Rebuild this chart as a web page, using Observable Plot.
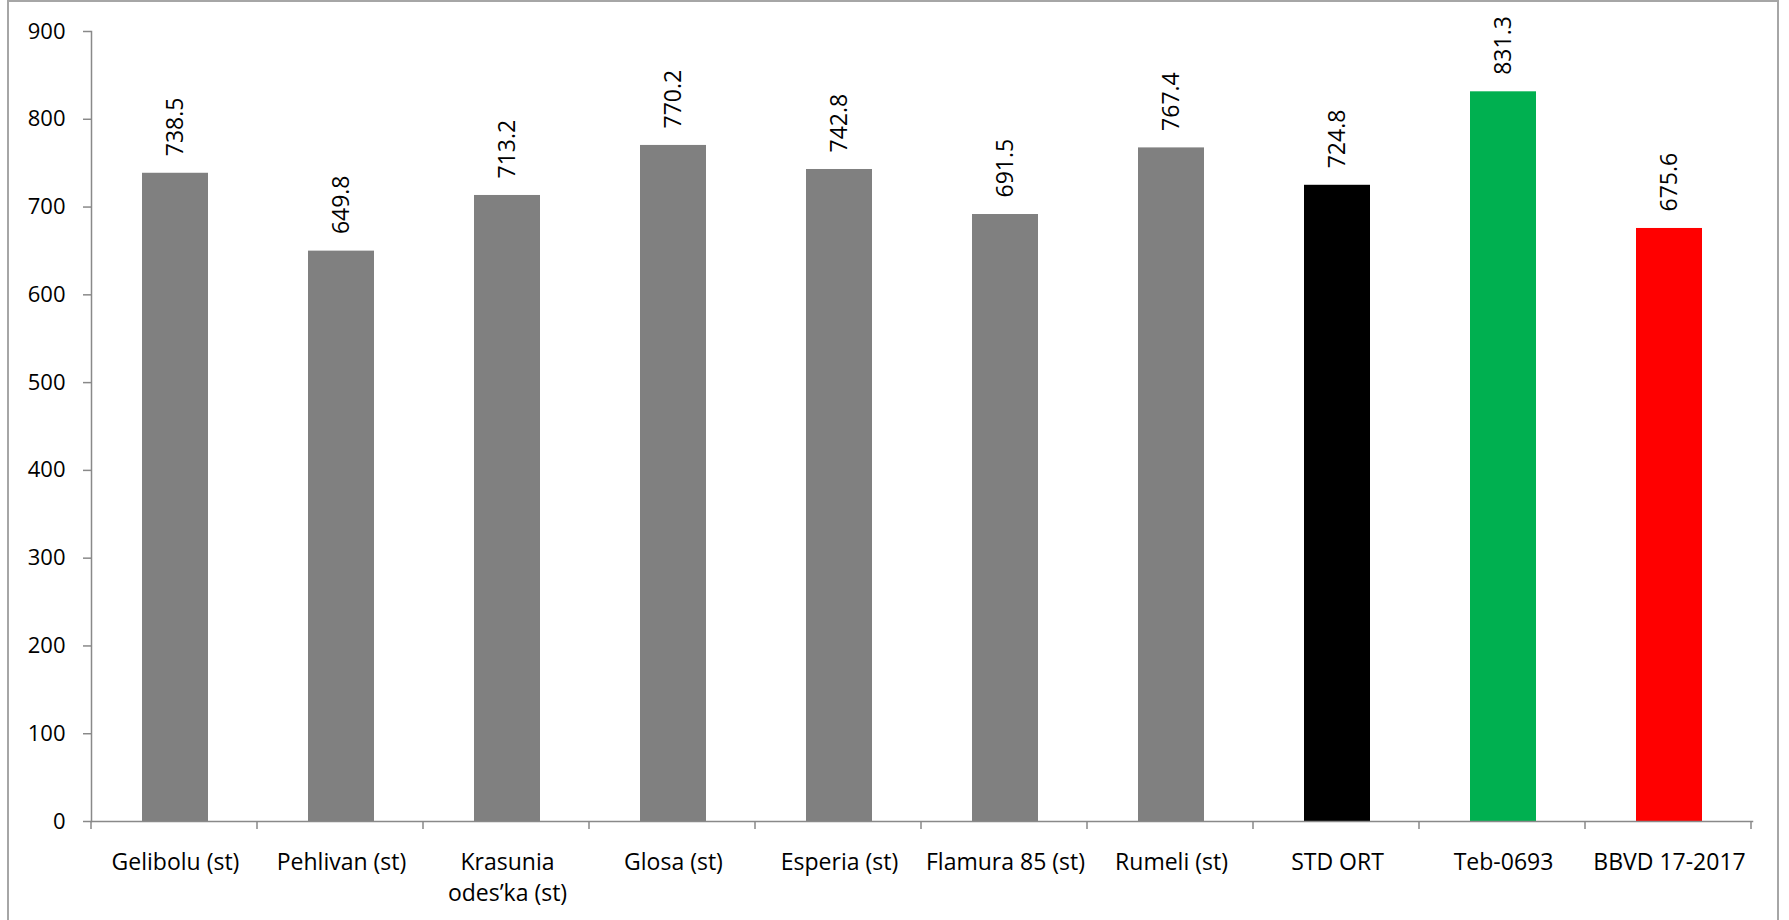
<!DOCTYPE html>
<html>
<head>
<meta charset="utf-8">
<script src="https://cdn.jsdelivr.net/npm/d3@7"></script>
<script src="https://cdn.jsdelivr.net/npm/@observablehq/plot@0.6"></script>
<style>
  html, body { margin: 0; padding: 0; background: #fff; overflow: hidden; }
  #wrap { position: relative; width: 1789px; height: 920px; }
  #frame { position: absolute; left: 7px; top: 0px; width: 1772px; height: 940px; border: 2px solid #a6a6a6; box-sizing: border-box; pointer-events: none; }
  #chart { position: absolute; left: 0; top: 0; }
</style>
</head>
<body>
<div id="wrap">
  <div id="chart"></div>
  <div id="frame"></div>
</div>
<script>
const categories = ["Gelibolu (st)", "Pehlivan (st)", "Krasunia\nodes’ka (st)", "Glosa (st)", "Esperia (st)", "Flamura 85 (st)", "Rumeli (st)", "STD ORT", "Teb-0693", "BBVD 17-2017"];
const values = [738.5, 649.8, 713.2, 770.2, 742.8, 691.5, 767.4, 724.8, 831.3, 675.6];
const colors = ["#808080", "#808080", "#808080", "#808080", "#808080", "#808080", "#808080", "#000000", "#00B050", "#FF0000"];
const yTicks = [0, 100, 200, 300, 400, 500, 600, 700, 800, 900];

const data = categories.map((c, i) => ({cat: c, value: values[i], color: colors[i]}));
const axisColor = "#898989";
const font = "'Open Sans', Lato, sans-serif";

// category-boundary ticks below the x axis, placed from the band scale
const boundaryTicks = (index, scales, values, dimensions) => {
  const g = d3.create("svg:g");
  const step = scales.x(categories[1]) - scales.x(categories[0]);
  const y0 = dimensions.height - dimensions.marginBottom;
  const left = dimensions.marginLeft;
  for (let i = 0; i <= categories.length; i++) {
    const x = left + i * step;
    g.append("line").attr("x1", x).attr("x2", x).attr("y1", y0).attr("y2", y0 + 8)
      .attr("stroke", axisColor).attr("stroke-width", 1.5);
  }
  return g.node();
};

const chart = Plot.plot({
  width: 1789,
  height: 920,
  marginLeft: 91,
  marginRight: 37,
  marginTop: 31,
  marginBottom: 99,
  style: {fontFamily: font, fontSize: "23px", color: "#000", background: "transparent"},
  x: {domain: categories, paddingInner: 0.605, paddingOuter: 0.3025, label: null},
  y: {domain: [0, 900], label: null},
  marks: [
    Plot.barY(data, {x: "cat", y: "value", fill: "color"}),
    Plot.text(data, {x: "cat", y: "value", text: d => d.value.toFixed(1), rotate: -90, textAnchor: "start", dy: -17, fontSize: 23, fill: "#000"}),
    Plot.axisY({ticks: yTicks, tickSize: 8, tickPadding: 18, stroke: axisColor, strokeWidth: 1.5, fontSize: 22, fill: "#000", label: null}),
    Plot.axisX({tickSize: 0, tickPadding: 26, fontSize: 23, fill: "#000", lineHeight: 1.35, label: null}),
    Plot.frame({anchor: "left", stroke: axisColor, strokeWidth: 1.5}),
    Plot.frame({anchor: "bottom", stroke: axisColor, strokeWidth: 1.5}),
    boundaryTicks
  ]
});
document.getElementById("chart").appendChild(chart);
</script>
</body>
</html>
